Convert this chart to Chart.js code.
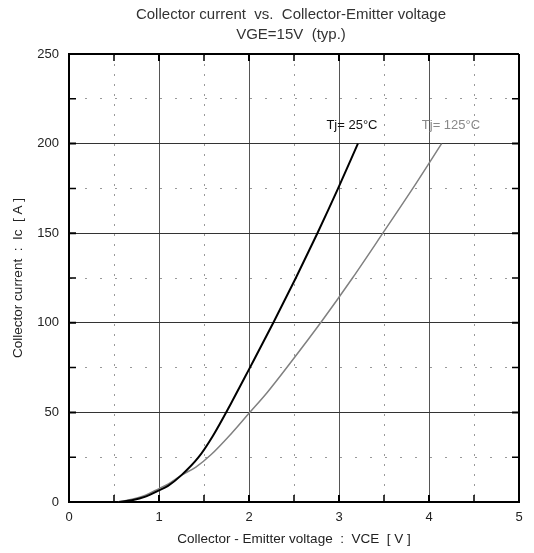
<!DOCTYPE html>
<html lang="en">
<head>
  <meta charset="UTF-8">
  <title>Collector current vs. Collector-Emitter voltage</title>
  <script src="https://cdn.jsdelivr.net/npm/chart.js"></script>
  <style>
    html, body { margin: 0; padding: 0; background: #fff; }
    #wrap { width: 534px; height: 553px; }
  </style>
</head>
<body>
  <div id="wrap">
    <canvas id="icChart" width="534" height="553"></canvas>
  </div>
<script>
  // values
  const vce25  = [0.55, 0.7, 0.85, 1.0, 1.1, 1.25, 1.44, 1.6, 1.8, 2.0, 2.27, 2.52, 2.76, 2.99, 3.21];
  const ic25   = [0,    1,   3,    6.5, 9,   15,   25,   37,  55,  74,  100,  125,  150,  175,  200];
  const vce125 = [0.55, 0.7, 0.85, 1.0, 1.1, 1.25, 1.41, 1.58, 1.8, 2.0,  2.2, 2.45, 2.81, 3.15, 3.5, 3.82, 4.14];
  const ic125  = [0,    1.5, 3.8,  7.5, 10,  15,   19.5, 26.5, 38,  49.5, 61,  77,   101,  125,  151, 175,  200];

  const xTicks = [0, 1, 2, 3, 4, 5];
  const yTicks = [0, 50, 100, 150, 200, 250];

  const titleLines = ['Collector current  vs.  Collector-Emitter voltage', 'VGE=15V  (typ.)'];

  // curve labels (data units)
  const curveLabels = ['Tj= 25°C', 'Tj= 125°C'];
  const labelVce = [2.86, 3.92];
  const labelIc = [210, 210];

  const FONT = '"Liberation Sans", Arial, Helvetica, sans-serif';
  const pts = (xs, ys) => xs.map((x, i) => ({ x: x, y: ys[i] }));

  // title over the plot, short ticks pointing into the plot, curve labels
  const extras = {
    id: 'extras',
    afterDatasetsDraw(chart) {
      const { ctx, chartArea: a, scales: { x, y } } = chart;
      ctx.save();
      ctx.strokeStyle = '#000';
      x.ticks.forEach(t => {
        const px = x.getPixelForValue(t.value);
        ctx.lineWidth = Number.isInteger(t.value) ? 2 : 1.5;
        ctx.beginPath();
        ctx.moveTo(px, a.bottom); ctx.lineTo(px, a.bottom - 7);
        ctx.moveTo(px, a.top); ctx.lineTo(px, a.top + 7);
        ctx.stroke();
      });
      y.ticks.forEach(t => {
        const py = y.getPixelForValue(t.value);
        ctx.lineWidth = t.value % 50 === 0 ? 2 : 1.5;
        ctx.beginPath();
        ctx.moveTo(a.left, py); ctx.lineTo(a.left + 7, py);
        ctx.moveTo(a.right, py); ctx.lineTo(a.right - 7, py);
        ctx.stroke();
      });

      ctx.font = '13px ' + FONT;
      ctx.textBaseline = 'middle';
      ctx.textAlign = 'left';
      const cols = ['#111', '#888'];
      curveLabels.forEach((s, i) => {
        ctx.fillStyle = cols[i];
        ctx.fillText(s, x.getPixelForValue(labelVce[i]), y.getPixelForValue(labelIc[i]));
      });

      ctx.font = '15px ' + FONT;
      ctx.textAlign = 'center';
      ctx.fillStyle = '#333';
      const cx = (a.left + a.right) / 2 - 3;
      titleLines.forEach((s, i) => ctx.fillText(s, cx, 15 + i * 20));
      ctx.restore();
    }
  };

  new Chart(document.getElementById('icChart'), {
    type: 'line',
    data: {
      datasets: [{
        label: 'Tj=25°C',
        data: pts(vce25, ic25),
        borderColor: '#000',
        borderWidth: 2,
        pointRadius: 0,
        cubicInterpolationMode: 'monotone'
      }, {
        label: 'Tj=125°C',
        data: pts(vce125, ic125),
        borderColor: '#808080',
        borderWidth: 1.5,
        pointRadius: 0,
        cubicInterpolationMode: 'monotone'
      }]
    },
    options: {
      responsive: false,
      animation: false,
      layout: { padding: { left: 0, right: 15, top: 54, bottom: 0 } },
      plugins: {
        legend: { display: false },
        tooltip: { enabled: false },
        title: { display: false }
      },
      scales: {
        x: {
          type: 'linear',
          min: 0, max: 5,
          afterFit: s => { s.height = 51; },
          ticks: {
            stepSize: 0.5, autoSkip: false, maxRotation: 0, padding: 8,
            color: '#222', font: { family: FONT, size: 13 },
            callback: v => xTicks.includes(v) ? String(v) : ''
          },
          grid: {
            drawTicks: false,
            color: c => c.tick && c.tick.value === 5 ? '#000' : (Number.isInteger(c.tick && c.tick.value) ? '#555' : '#999'),
            lineWidth: c => c.tick && c.tick.value === 5 ? 2 : 1
          },
          border: {
            display: true, color: '#000', width: 2,
            dash: c => (c.tick && !Number.isInteger(c.tick.value)) ? [2, 8] : []
          },
          title: {
            display: true,
            text: 'Collector - Emitter voltage  :  VCE  [ V ]',
            color: '#222',
            font: { family: FONT, size: 13.5 },
            padding: { top: 0, bottom: 6 }
          }
        },
        y: {
          min: 0, max: 250,
          afterFit: s => { s.width = 69; },
          ticks: {
            stepSize: 25, autoSkip: false, padding: 10,
            color: '#222', font: { family: FONT, size: 13 },
            callback: v => yTicks.includes(v) ? String(v) : ''
          },
          grid: {
            drawTicks: false,
            color: c => c.tick && c.tick.value === 250 ? '#000' : (c.tick && c.tick.value % 50 === 0 ? '#333' : '#999'),
            lineWidth: c => c.tick && c.tick.value === 250 ? 2 : 1
          },
          border: {
            display: true, color: '#000', width: 2,
            dash: c => (c.tick && c.tick.value % 50 !== 0) ? [2, 13] : []
          },
          title: {
            display: true,
            text: 'Collector current  :  Ic  [ A ]',
            color: '#222',
            font: { family: FONT, size: 13.5 },
            padding: { top: 10, bottom: 0 }
          }
        }
      }
    },
    plugins: [extras]
  });
</script>
</body>
</html>
